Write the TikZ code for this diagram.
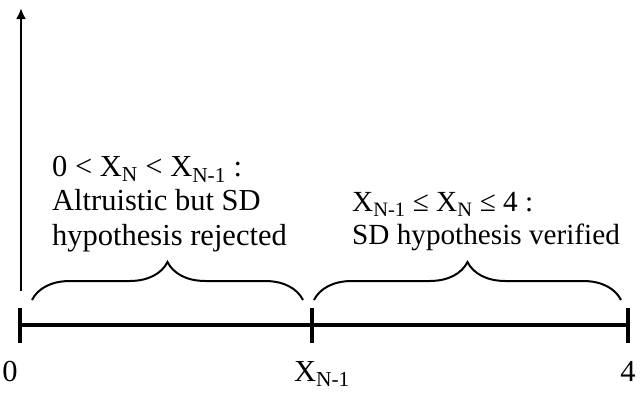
\documentclass[tikz,border=0pt]{standalone}
\usepackage{fontspec}
\setmainfont{Liberation Serif}
\usepackage{tikz}
\usetikzlibrary{arrows.meta, positioning, calc, decorations.pathreplacing}
\tikzset{
  rotulo/.style={inner sep=0pt, font=\fontsize{30.5}{34.5}\selectfont, align=left},
  rotulob/.style={inner sep=0pt, font=\fontsize{29.2}{33.5}\selectfont, align=left},
  eje/.style={line width=3.6pt, draw=black},
  marca/.style={line width=3.2pt, draw=black},
  llave/.style={decorate, decoration={brace, amplitude=38pt}, line width=2pt},
  flecha/.style={-{Latex[length=11pt, width=10pt]}, line width=2.2pt},
}

\begin{document}
\begin{tikzpicture}[x=1pt, y=-1pt]
        \useasboundingbox (0,0) rectangle (640,392);
        \coordinate (cero) at (20,325);
        \coordinate (medio) at (312,325);
        \coordinate (cuatro) at (628,325);
        \coordinate (pie) at (21,291);
        \coordinate (punta) at (21,8);

        \node[rotulo, anchor=north west] (altruista) at (52,156) {0 < X\textsubscript{N} < X\textsubscript{N-1} :\\Altruistic but SD\\hypothesis rejected};
        \node[rotulob, anchor=north west] (verificada) at (352,192) {X\textsubscript{N-1} ≤ X\textsubscript{N} ≤ 4 :\\SD hypothesis verified};
        \node[rotulo, anchor=base] (lcero) at (10,381) {0};
        \node[rotulo, anchor=base] (lmedio) at (322,381) {X\textsubscript{N-1}};
        \node[rotulo, anchor=base] (lcuatro) at (628,381) {4};

        \draw[flecha] (pie) -- (punta);
        \draw[eje] (cero) -- (cuatro);
        \draw[marca] ($(cero)+(0,-17)$) -- ($(cero)+(0,18)$);
        \draw[marca] ($(medio)+(0,-17)$) -- ($(medio)+(0,18)$);
        \draw[marca] ($(cuatro)+(0,-17)$) -- ($(cuatro)+(0,18)$);
        \draw[llave] (32,300) -- (303,300);
        \draw[llave] (314,300) -- (621,300);
    \end{tikzpicture}
\end{document}
